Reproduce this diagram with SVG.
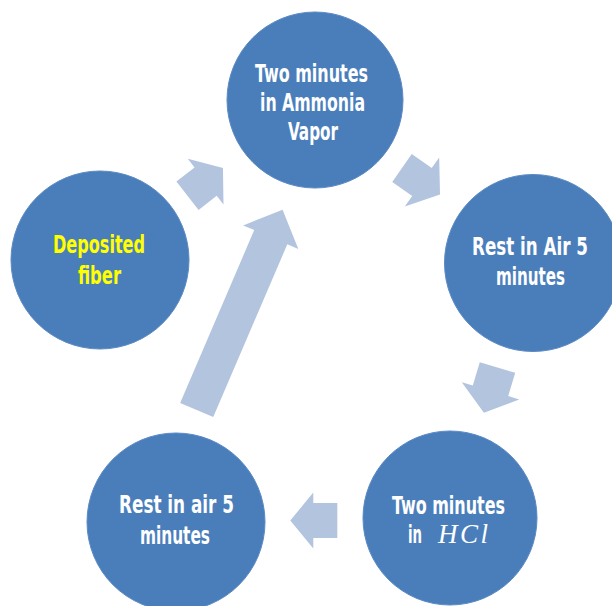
<svg xmlns="http://www.w3.org/2000/svg" width="612" height="606" viewBox="0 0 612 606">
<style>
.node{fill:#4A7EBB;stroke:#5B8AC4;stroke-width:1}
.t{font-family:"Liberation Sans Narrow","DejaVu Sans Condensed","Liberation Sans",sans-serif;font-weight:bold;font-size:25px;fill:#FFFFFF;text-anchor:middle}
.s{font-size:21px}
.y{fill:#FFFF00}
.m{font-family:"Liberation Serif","DejaVu Serif",serif;font-style:italic;font-size:27px;fill:#FFFFFF}
.arr{fill:#B3C4DF}
</style>
<rect width="612" height="606" fill="#FFFFFF"/>
<g id="connectors">
<path class="arr" transform="translate(187.5,195.8) rotate(-38)" d="M0,-18 L23,-18 L23,-29 L45,0 L23,29 L23,18 L0,18 Z"/>
<path class="arr" transform="translate(402,168) rotate(35)" d="M0,-17 L24.4,-17 L24.4,-30 L46.4,0 L24.4,30 L24.4,17 L0,17 Z"/>
<path class="arr" transform="translate(497.5,367.5) rotate(106.7)" d="M0,-18.5 L24.3,-18.5 L24.3,-30 L47.3,0 L24.3,30 L24.3,18.5 L0,18.5 Z"/>
<path class="arr" transform="translate(337.3,520.5) rotate(180)" d="M0,-17.5 L24,-17.5 L24,-28 L47,0 L24,28 L24,17.5 L0,17.5 Z"/>
<path class="arr" transform="translate(196.7,410) rotate(-66.8)" d="M0,-18 L188,-18 L188,-30 L218,0 L188,30 L188,18 L0,18 Z"/>
</g>
<g id="node-ammonia">
<circle class="node" cx="315" cy="100" r="88"/>
<text class="t" x="311.5" y="82" textLength="113" lengthAdjust="spacingAndGlyphs">Two minutes</text>
<text class="t" x="312.5" y="111" textLength="105" lengthAdjust="spacingAndGlyphs">in  Ammonia</text>
<text class="t" x="313" y="140" textLength="50" lengthAdjust="spacingAndGlyphs">Vapor</text>
</g>
<g id="node-rest-air-1">
<circle class="node" cx="533" cy="263" r="88.5"/>
<text class="t s" transform="translate(530,255) scale(1,1.16)" x="0" y="0" textLength="116" lengthAdjust="spacingAndGlyphs">Rest in Air 5</text>
<text class="t" x="530.5" y="285" textLength="69" lengthAdjust="spacingAndGlyphs">minutes</text>
</g>
<g id="node-hcl">
<circle class="node" cx="450" cy="518" r="87"/>
<text class="t" x="448.5" y="514" textLength="113" lengthAdjust="spacingAndGlyphs">Two minutes</text>
<text class="t" x="415" y="543" textLength="14" lengthAdjust="spacingAndGlyphs">in</text>
<text class="m" x="438" y="543" textLength="50" lengthAdjust="spacing">HCl</text>
</g>
<g id="node-rest-air-2">
<circle class="node" cx="176" cy="522" r="89"/>
<text class="t" x="176.5" y="513" textLength="115" lengthAdjust="spacingAndGlyphs">Rest in air 5</text>
<text class="t" x="175" y="544" textLength="70" lengthAdjust="spacingAndGlyphs">minutes</text>
</g>
<g id="node-deposited">
<circle class="node" cx="100" cy="260" r="89"/>
<text class="t y" x="99" y="253" textLength="92" lengthAdjust="spacingAndGlyphs">Deposited</text>
<text class="t y" x="99.5" y="284" textLength="43" lengthAdjust="spacingAndGlyphs">fiber</text>
</g>
</svg>
